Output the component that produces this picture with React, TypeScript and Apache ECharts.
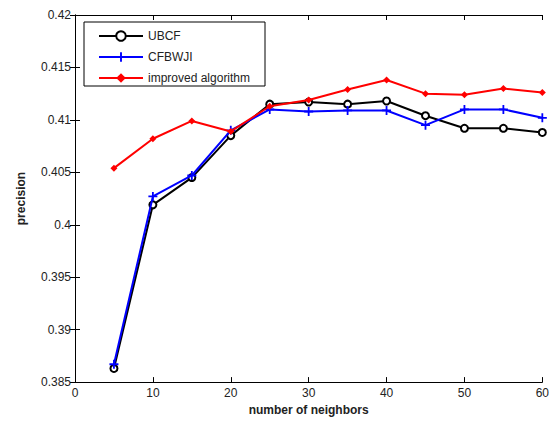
import React, { useEffect, useRef } from "react";
import * as echarts from "echarts";

const neighbors = [5, 10, 15, 20, 25, 30, 35, 40, 45, 50, 55, 60];
const ubcf = [0.3863, 0.4019, 0.4045, 0.4085, 0.4115, 0.4117, 0.4115, 0.4118, 0.4104, 0.4092, 0.4092, 0.4088];
const cfbwji = [0.3867, 0.4027, 0.4047, 0.409, 0.411, 0.4108, 0.4109, 0.4109, 0.4095, 0.411, 0.411, 0.4102];
const improved = [0.4054, 0.4082, 0.4099, 0.4089, 0.4113, 0.4119, 0.4129, 0.4138, 0.4125, 0.4124, 0.413, 0.4126];

const FONT = "'Liberation Sans', Arial, sans-serif";
const PLUS = "path://M4,0 H6 V4 H10 V6 H6 V10 H4 V6 H0 V4 H4 Z";

export default function App() {
  const ref = useRef<HTMLDivElement>(null);
  useEffect(() => {
    if (!ref.current) return;
    const chart = echarts.init(ref.current, undefined, { renderer: "svg" });
    const pair = (arr: number[]) => neighbors.map((x, i) => [x, arr[i]]);
    const axisCommon = {
      axisLine: { show: true, lineStyle: { color: "#000", width: 1 } },
      axisTick: { show: true, inside: true, length: 5, lineStyle: { color: "#000" } },
      splitLine: { show: false },
    };
    chart.setOption({
      animation: false,
      backgroundColor: "#fff",
      grid: { left: 75, right: 9, top: 15, bottom: 38 },
      graphic: [
        {
          type: "rect",
          shape: { x: 84, y: 22, width: 181, height: 64 },
          style: { fill: "#fff", stroke: "#000", lineWidth: 1 },
          z: 100,
        },
      ],
      legend: {
        left: 93,
        top: 25,
        orient: "vertical",
        itemWidth: 44,
        itemHeight: 12,
        itemGap: 9,
        z: 101,
        textStyle: { fontFamily: FONT, fontSize: 12, color: "#222" },
        data: ["UBCF", "CFBWJI", "improved algorithm"],
      },
      xAxis: [
        {
          type: "value",
          min: 0,
          max: 60,
          interval: 10,
          position: "bottom",
          name: "number of neighbors",
          nameLocation: "middle",
          nameGap: 21,
          nameTextStyle: { fontFamily: FONT, fontSize: 12, fontWeight: "bold", color: "#222" },
          axisLabel: { fontFamily: FONT, fontSize: 12, color: "#222", margin: 5 },
          ...axisCommon,
        },
        {
          type: "value",
          min: 0,
          max: 60,
          interval: 10,
          position: "top",
          axisLabel: { show: false },
          ...axisCommon,
        },
      ],
      yAxis: [
        {
          type: "value",
          min: 0.385,
          max: 0.42,
          interval: 0.005,
          position: "left",
          name: "precision",
          nameLocation: "middle",
          nameGap: 48,
          nameTextStyle: { fontFamily: FONT, fontSize: 12, fontWeight: "bold", color: "#222" },
          axisLabel: {
            fontFamily: FONT,
            fontSize: 12,
            color: "#222",
            margin: 4,
            formatter: (v: number) => String(+v.toFixed(3)),
          },
          ...axisCommon,
        },
        {
          type: "value",
          min: 0.385,
          max: 0.42,
          interval: 0.005,
          position: "right",
          axisLabel: { show: false },
          ...axisCommon,
        },
      ],
      series: [
        {
          name: "UBCF",
          type: "line",
          data: pair(ubcf),
          symbol: "emptyCircle",
          symbolSize: 7,
          lineStyle: { color: "#000", width: 2 },
          itemStyle: { color: "#000", borderWidth: 1.5 },
          z: 3,
        },
        {
          name: "CFBWJI",
          type: "line",
          data: pair(cfbwji),
          symbol: PLUS,
          symbolSize: 9,
          lineStyle: { color: "#0000ff", width: 2 },
          itemStyle: { color: "#0000ff" },
          z: 4,
        },
        {
          name: "improved algorithm",
          type: "line",
          data: pair(improved),
          symbol: "diamond",
          symbolSize: 7,
          lineStyle: { color: "#ff0000", width: 2 },
          itemStyle: { color: "#ff0000" },
          z: 5,
        },
      ],
    });
    return () => chart.dispose();
  }, []);
  return (
    <div
      ref={ref}
      style={{ position: "fixed", left: 0, top: 0, width: 552, height: 421 }}
    />
  );
}
